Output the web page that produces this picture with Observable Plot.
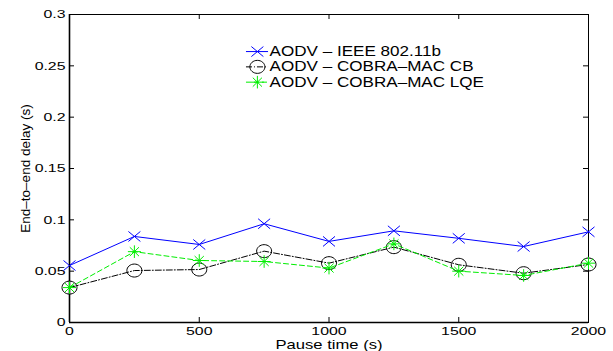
<!DOCTYPE html>
<html>
<head>
<meta charset="utf-8">
<script src="https://cdn.jsdelivr.net/npm/d3@7"></script>
<script src="https://cdn.jsdelivr.net/npm/@observablehq/plot@0.6"></script>
<style>
  html, body { margin: 0; padding: 0; background: #fff; }
  #chart { width: 613px; height: 351px; }
</style>
</head>
<body>
<div id="chart"></div>
<script>
// ---- data ----
const pauseTime = [0, 250, 500, 750, 1000, 1250, 1500, 1750, 2000];
const ieee80211b = [0.0555, 0.0838, 0.0760, 0.0962, 0.0790, 0.0893, 0.0820, 0.0740, 0.0883];
const cobraCB    = [0.0340, 0.0506, 0.0516, 0.0695, 0.0578, 0.0734, 0.0562, 0.0480, 0.0565];
const cobraLQE   = [0.0340, 0.0690, 0.0604, 0.0594, 0.0530, 0.0766, 0.0500, 0.0458, 0.0578];
const seriesNames = ["AODV – IEEE 802.11b", "AODV – COBRA–MAC CB", "AODV – COBRA–MAC LQE"];
const xTicks = [0, 500, 1000, 1500, 2000];
const xTickLabels = ["0", "500", "1000", "1500", "2000"];
const yTicks = [0, 0.05, 0.1, 0.15, 0.2, 0.25, 0.3];
const yTickLabels = ["0", "0.05", "0.1", "0.15", "0.2", "0.25", "0.3"];
const xLabel = "Pause time (s)";
const yLabel = "End–to–end delay (s)";

// ---- layout ----
const W = 613, H = 351;
const mL = 69, mR = 25, mT = 14, mB = 29;
const innerW = W - mL - mR, innerH = H - mT - mB;
const tick = 5;

// custom MATLAB-like (slightly stretched) markers
function timesSym(rx, ry) {
  return { draw(c) { c.moveTo(-rx, -ry); c.lineTo(rx, ry); c.moveTo(-rx, ry); c.lineTo(rx, -ry); } };
}
function starSym(rx, ry) {
  const k = Math.SQRT1_2;
  return { draw(c) {
    c.moveTo(-rx, 0); c.lineTo(rx, 0); c.moveTo(0, -ry); c.lineTo(0, ry);
    c.moveTo(-rx * k, -ry * k); c.lineTo(rx * k, ry * k);
    c.moveTo(-rx * k, ry * k); c.lineTo(rx * k, -ry * k);
  } };
}
function ellipseSym(rx, ry) {
  const k = 0.5523;
  return { draw(c) {
    c.moveTo(rx, 0);
    c.bezierCurveTo(rx, ry * k, rx * k, ry, 0, ry);
    c.bezierCurveTo(-rx * k, ry, -rx, ry * k, -rx, 0);
    c.bezierCurveTo(-rx, -ry * k, -rx * k, -ry, 0, -ry);
    c.bezierCurveTo(rx * k, -ry, rx, -ry * k, rx, 0);
    c.closePath();
  } };
}

const series = [
  { values: ieee80211b, color: "#0000ff", dash: null, symbol: timesSym(6, 5) },
  { values: cobraCB, color: "#000000", dash: "6,2,1,2", symbol: ellipseSym(7.5, 6.5) },
  { values: cobraLQE, color: "#00ee00", dash: "5,3", symbol: starSym(6.5, 6.3) }
];

// legend placement (data units inside the frame)
const legLineX1 = 682, legLineX2 = 767, legMarkX = 724, legTextX = 771;
const legTopY = 0.2639, legStep = 0.0149;

const marks = [];
// frame and heavier left/bottom axes
marks.push(Plot.frame({ stroke: "black", strokeWidth: 1 }));
marks.push(Plot.ruleX([0], { stroke: "black", strokeWidth: 1.6 }));
marks.push(Plot.ruleY([0], { stroke: "black", strokeWidth: 1.6 }));
// inward ticks on all four sides
marks.push(Plot.tickX(xTicks, { x: d => d, insetTop: innerH - tick, stroke: "black" }));
marks.push(Plot.tickX(xTicks, { x: d => d, insetBottom: innerH - tick, stroke: "black" }));
marks.push(Plot.tickY(yTicks, { y: d => d, insetRight: innerW - tick, stroke: "black" }));
marks.push(Plot.tickY(yTicks, { y: d => d, insetLeft: innerW - tick, stroke: "black" }));

series.forEach((s, i) => {
  marks.push(Plot.line(pauseTime, {
    x: d => d, y: s.values, stroke: s.color, strokeWidth: 1,
    strokeDasharray: s.dash || undefined
  }));
  marks.push(Plot.dot(pauseTime, {
    x: d => d, y: s.values, symbol: s.symbol, r: 5,
    stroke: s.color, fill: "none", strokeWidth: 1
  }));
  // legend entry
  const ly = legTopY - i * legStep;
  marks.push(Plot.ruleY([ly], {
    x1: legLineX1, x2: legLineX2, stroke: s.color, strokeWidth: 1,
    strokeDasharray: s.dash || undefined
  }));
  marks.push(Plot.dot([ly], {
    x: () => legMarkX, y: d => d, symbol: s.symbol, r: 5,
    stroke: s.color, fill: "none", strokeWidth: 1
  }));
  marks.push(Plot.text([seriesNames[i]], {
    x: () => legTextX, y: () => ly, text: d => d, textAnchor: "start",
    lineAnchor: "middle", fontSize: 14, fill: "black"
  }));
});

// axis titles
marks.push(Plot.text([xLabel], {
  frameAnchor: "bottom", textAnchor: "middle", lineAnchor: "middle",
  dy: 22.9, text: d => d, fontSize: 12.5, fill: "black"
}));
marks.push(Plot.text([yLabel], {
  frameAnchor: "left", textAnchor: "middle", lineAnchor: "middle",
  dx: -44, rotate: -90, text: d => d, fontSize: 13.5, fill: "black"
}));

const chart = Plot.plot({
  width: W,
  height: H,
  marginLeft: mL, marginRight: mR, marginTop: mT, marginBottom: mB,
  style: { fontFamily: "'Liberation Sans', Arial, Helvetica, sans-serif", fontSize: "11.5px", color: "black", background: "white" },
  x: {
    type: "linear", domain: [0, 2000], ticks: xTicks,
    tickFormat: d => xTickLabels[xTicks.indexOf(d)],
    tickSize: 0, tickPadding: 4.8, label: null
  },
  y: {
    type: "linear", domain: [0, 0.3], ticks: yTicks,
    tickFormat: d => yTickLabels[yTicks.indexOf(d)],
    tickSize: 0, tickPadding: 4, label: null
  },
  marks
});

document.getElementById("chart").appendChild(chart);

// horizontally stretch the non-rotated text like the reference raster
chart.querySelectorAll("text").forEach(el => {
  const tr = el.getAttribute("transform") || "";
  if (tr.includes("rotate")) return;
  const fs = parseFloat(getComputedStyle(el).fontSize);
  const s = fs >= 14 ? 1.22 : fs >= 12.5 ? 1.33 : 1.38;
  const xa = el.getAttribute("x");
  let tx = 0;
  if (xa != null && /^-?[\d.]+$/.test(xa.trim())) { tx = +xa; el.removeAttribute("x"); }
  el.setAttribute("transform", `${tr} translate(${tx},0) scale(${s},1)`);
});
</script>
</body>
</html>
